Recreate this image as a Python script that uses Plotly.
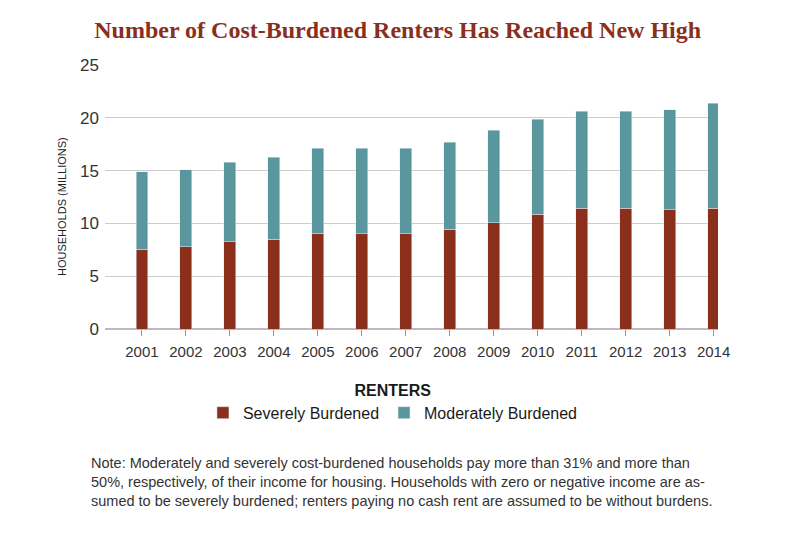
import plotly.graph_objects as go

years = ["2001", "2002", "2003", "2004", "2005", "2006", "2007",
         "2008", "2009", "2010", "2011", "2012", "2013", "2014"]
severe = [7.55, 7.8, 8.27, 8.49, 9.09, 9.03, 9.03,
          9.47, 10.07, 10.89, 11.43, 11.43, 11.27, 11.43]
moderate = [7.35, 7.26, 7.53, 7.77, 8.05, 8.11, 8.11,
            8.23, 8.73, 8.97, 9.17, 9.17, 9.47, 9.94]
y_ticks = [0, 5, 10, 15, 20, 25]

RED = "#8a2f1c"
TEAL = "#5a969d"
FONT = "Liberation Sans Narrow, Liberation Sans, Arial, sans-serif"

title = "Number of Cost-Burdened Renters Has Reached New High"
note = ("Note: Moderately and severely cost-burdened households pay more than 31% and more than<br>"
        "50%, respectively, of their income for housing. Households with zero or negative income are as-<br>"
        "sumed to be severely burdened; renters paying no cash rent are assumed to be without burdens.")

# page has an 8px body margin, so the figure is 784x517 and coords are figure pixels
W, H = 784, 517
L, R, T, B = 97, 710, 57, 321


def px_x(p):
    return (p - L) / (R - L)


def px_y(p):
    return (B - p) / (B - T)


fig = go.Figure()
fig.add_trace(go.Bar(x=years, y=severe, name="Severely Burdened", marker_color=RED))
fig.add_trace(go.Bar(x=years, y=moderate, name="Moderately Burdened", marker_color=TEAL))

fig.update_layout(
    barmode="stack",
    bargap=0.73,
    width=W, height=H,
    margin=dict(l=L, r=W - R, t=T, b=H - B),
    plot_bgcolor="white", paper_bgcolor="white",
    font=dict(family=FONT, color="#333333"),
    title=dict(text=title, x=0.497, xref="container", xanchor="center",
               y=1 - 22 / H, yref="container", yanchor="middle",
               font=dict(family="Liberation Serif, DejaVu Serif, serif", size=24,
                         color="#8a2f1c", weight="bold")),
    legend=dict(orientation="h", xref="container", x=0.491, xanchor="center",
                yref="container", y=1 - 367 / H, yanchor="top",
                title=dict(text="<b>RENTERS</b>", side="top center",
                           font=dict(size=16, color="#1a1a1a")),
                font=dict(size=16, color="#1a1a1a"), itemwidth=30,
                traceorder="normal"),
)

fig.update_xaxes(type="category", range=[-0.84, 13.1], showline=False,
                 ticks="outside", ticklen=6, tickcolor="#999999",
                 ticklabelstandoff=3,
                 tickfont=dict(size=15, color="#333333"), showgrid=False)
fig.update_yaxes(range=[0, 25], tickvals=y_ticks, showgrid=True,
                 gridcolor="#cccccc", zeroline=True, zerolinecolor="#bbbbbb",
                 tickfont=dict(size=17, color="#333333"), ticks="",
                 ticklabelstandoff=5)

fig.add_annotation(text="HOUSEHOLDS (MILLIONS)", textangle=-90,
                   xref="paper", yref="paper", x=px_x(54), y=px_y(199),
                   xanchor="center", yanchor="middle", showarrow=False,
                   font=dict(size=11, color="#222222", family=FONT))

fig.add_annotation(text=note, xref="paper", yref="paper",
                   x=px_x(81), y=px_y(445), xanchor="left", yanchor="top",
                   align="left", showarrow=False,
                   font=dict(size=14.5, color="#333333", family=FONT))

fig.write_html("out.html")
